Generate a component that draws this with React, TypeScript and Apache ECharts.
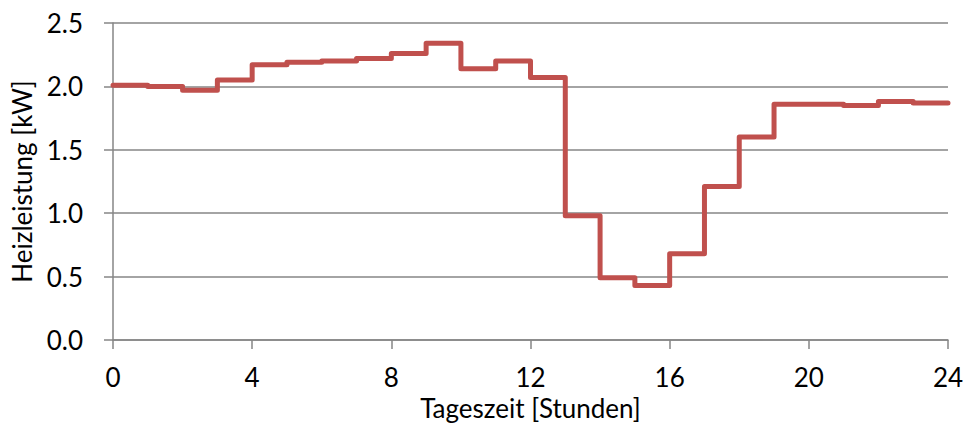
import React, { useEffect, useRef } from "react";
import * as echarts from "echarts";

const hours = [0, 1, 2, 3, 4, 5, 6, 7, 8, 9, 10, 11, 12, 13, 14, 15, 16, 17, 18, 19, 20, 21, 22, 23, 24];
const heatPower = [
  2.01, 2.0, 1.97, 2.05, 2.17, 2.19, 2.2, 2.22, 2.26, 2.34, 2.14, 2.2, 2.07,
  0.98, 0.49, 0.43, 0.68, 1.21, 1.6, 1.86, 1.86, 1.85, 1.88, 1.87, 1.87,
];
const xTicks = [0, 4, 8, 12, 16, 20, 24];
const yTicks = [0, 0.5, 1.0, 1.5, 2.0, 2.5];
const xTitle = "Tageszeit [Stunden]";
const yTitle = "Heizleistung [kW]";

const FONT = "Lato, 'Open Sans', sans-serif";
const GRAY = "#868686";

export default function App() {
  const ref = useRef<HTMLDivElement>(null);
  useEffect(() => {
    if (!ref.current) return;
    const chart = echarts.init(ref.current, undefined, { renderer: "svg" });
    chart.setOption({
      animation: false,
      backgroundColor: "#ffffff",
      grid: { left: 113, right: 19, top: 23, bottom: 88, containLabel: false },
      xAxis: {
        type: "value",
        min: xTicks[0],
        max: xTicks[xTicks.length - 1],
        interval: 4,
        name: xTitle,
        nameLocation: "middle",
        nameGap: 54,
        nameTextStyle: { fontFamily: FONT, fontSize: 26, color: "#000" },
        axisLine: { show: true, lineStyle: { color: GRAY, width: 1.5 } },
        axisTick: { show: true, length: 9, lineStyle: { color: GRAY, width: 1.5 } },
        axisLabel: { fontFamily: FONT, fontSize: 26, color: "#000", margin: 24 },
        splitLine: { show: false },
      },
      yAxis: {
        type: "value",
        min: yTicks[0],
        max: yTicks[yTicks.length - 1],
        interval: 0.5,
        name: yTitle,
        nameLocation: "middle",
        nameGap: 78,
        nameTextStyle: { fontFamily: FONT, fontSize: 26, color: "#000" },
        axisLine: { show: true, lineStyle: { color: GRAY, width: 1.5 } },
        axisTick: { show: true, length: 9, lineStyle: { color: GRAY, width: 1.5 } },
        axisLabel: {
          fontFamily: FONT,
          fontSize: 26,
          color: "#000",
          margin: 30,
          formatter: (v: number) => v.toFixed(1),
        },
        splitLine: { show: true, lineStyle: { color: GRAY, width: 1.5 } },
      },
      series: [
        {
          type: "line",
          step: "end",
          data: hours.map((h, i) => [h, heatPower[i]]),
          showSymbol: false,
          lineStyle: { color: "#C0504D", width: 5, join: "round", cap: "round" },
          itemStyle: { color: "#C0504D" },
        },
      ],
    });
    return () => chart.dispose();
  }, []);
  return (
    <div
      ref={ref}
      style={{ position: "fixed", left: 0, top: 0, width: 967, height: 428 }}
    />
  );
}
